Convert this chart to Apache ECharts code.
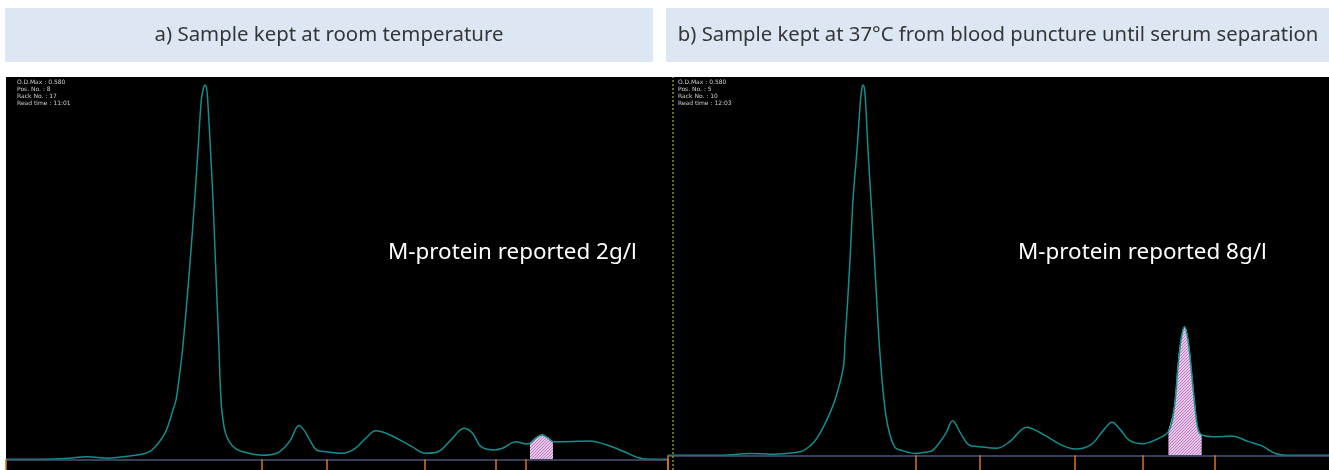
<!DOCTYPE html>
<html>
<head>
<meta charset="utf-8">
<script src="https://cdn.jsdelivr.net/npm/echarts@6/dist/echarts.min.js"></script>
<style>html,body{margin:0;padding:0;background:#fff}#c{width:1329px;height:470px}</style>
</head>
<body>
<div id="c"></div>
<script>
// ---- Data (migration position, % of O.D. max) ----
const posA = [0,37,59,81,102,124,137,146,159,167,170,173.5,176.5,181,185,188.7,192,195.3,197.5,199,200.5,201.7,204.5,207,209,211,213,215,217,219.5,224,230,237,256,271.5,279,284.6,293,298,302,310.6,320,336.6,349.6,360,369.6,384,406,419,432,445,458,466.7,475,489.7,497,510,520,524,530,536,542,547,558,584,601,618.5,631.5,644.5,662];
const odA  = [0,0,0.2,0.7,0.3,0.9,1.4,2.5,7.0,13.2,15.8,22.5,29.2,42.6,55.9,69.3,82.6,96.0,99.2,100,99.2,96.0,82.6,69.3,55.9,42.6,29.2,15.8,10.5,7.0,4.4,2.8,2.0,1.1,1.7,3.3,5.2,9.0,7.8,6.0,2.5,2.0,1.6,3.0,5.7,7.6,6.5,3.4,1.6,2.0,5.2,8.3,6.9,3.4,2.5,3.0,4.7,4.1,4.3,5.7,6.5,5.7,4.7,4.7,4.9,3.8,2.0,0.5,0,0];
const posB = [0,47,67,81.6,103,122,132.8,139,146,152,162.6,169,175.4,177.1,179.7,182.5,185,189,192.5,194,195,196.3,197.5,200,203,206,208.7,211.7,216,220,226.6,235,248,257,265,277.8,284.6,292.7,301,312,329,341.8,358.8,376,393,407,422.8,435.6,444,452.7,461,474.8,486.8,500.4,506,510,513,516.6,520,523,527.3,530.3,533.7,547.3,563.5,580.6,593.4,608.3,619,661];
const odB  = [0,0,0.2,0.5,0.3,0.6,1.0,1.9,3.6,5.9,11.8,16.7,23.9,31.1,41.9,55.4,69.0,82.5,95.9,99.2,100,99.2,95.9,82.5,69.0,55.4,41.9,28.4,14.9,7.7,2.3,1.2,0.5,0.8,1.4,5.9,9.3,5.9,2.8,2.3,1.9,3.7,7.6,5.5,2.8,1.7,2.8,6.8,8.9,6.8,4.1,3.1,4.1,6.4,12.2,23.9,31.1,34.7,31.1,23.9,12.2,6.8,5.5,5.0,5.2,3.7,2.6,0.4,0,0];
const fractionsA = [0,256,321,419,490,520,662];
const fractionsB = [0,248,312,407,475,547];
const mBandA = [524,547];
const mBandB = [500.4,533.7];
const cursorB = [5];
const titles = ['a) Sample kept at room temperature','b) Sample kept at 37°C from blood puncture until serum separation'];
const mLabels = ['M-protein reported 2g/l','M-protein reported 8g/l'];
const infoA = ['O.D.Max : 0.580','Pos. No. : 8','Rack No. : 17','Read time : 11:01'];
const infoB = ['O.D.Max : 0.580','Pos. No. : 5','Rack No. : 10','Read time : 12:03'];

// ---- Build ----
const zip = (xs, ys) => xs.map((x, i) => [x, ys[i]]);
const band = (xs, ys, b) => zip(xs, ys).filter(p => p[0] >= b[0] && p[0] <= b[1]);

const pc = document.createElement('canvas');
pc.width = 3; pc.height = 3;
const g = pc.getContext('2d');
g.fillStyle = '#e9c6ea'; g.fillRect(0,0,3,3);
g.fillStyle = '#b57dbb';
g.fillRect(2,0,1,1); g.fillRect(1,1,1,1); g.fillRect(0,2,1,1);

const yMinA = -2.86, yMaxA = 102.15, yMinB = -3.97, yMaxB = 102.16;
const CURVE = '#138e8e', TICK = '#d97718', BASE = '#4b5478';

function tickLines(fr, ymin){
  return fr.map(x => [{coord:[x,0], lineStyle:{color:TICK, width:1.5, type:'solid'}},{coord:[x,ymin]}]);
}
function panelSeries(idx, xs, ys, fr, b, ymin, extraLines){
  return [
    {type:'line', xAxisIndex:idx, yAxisIndex:idx, data: band(xs, ys, b), smooth:0.35,
     showSymbol:false, lineStyle:{width:1, color:'#a6dde2'}, areaStyle:{color:{image:pc, repeat:'repeat'}, opacity:1}, z:2, silent:true},
    {type:'line', xAxisIndex:idx, yAxisIndex:idx, data: zip(xs, ys), smooth:0.35,
     showSymbol:false, lineStyle:{width:1.5, color:CURVE}, z:3, silent:true,
     markLine:{silent:true, symbol:'none', label:{show:false}, animation:false,
       data:[{yAxis:0, lineStyle:{color:BASE, width:1.5, type:'solid'}}]
         .concat(tickLines(fr, ymin))
         .concat(extraLines)}}
  ];
}

const infoText = (lines, x) => lines.map((t,i)=>({type:'text', left:x, top:79+i*7,
  style:{text:t, fill:'#cfcfcf', font:'6px "DejaVu Sans"'}, z:10}));

const chart = echarts.init(document.getElementById('c'), null, {renderer:'canvas'});
chart.setOption({
  animation:false,
  backgroundColor:'#ffffff',
  grid:[
    {left:6, top:77, width:662, height:393, show:true, backgroundColor:'#000', borderWidth:0},
    {left:668, top:77, width:661, height:393, show:true, backgroundColor:'#000', borderWidth:0}
  ],
  xAxis:[
    {type:'value', gridIndex:0, min:0, max:662, show:false},
    {type:'value', gridIndex:1, min:0, max:661, show:false}
  ],
  yAxis:[
    {type:'value', gridIndex:0, min:yMinA, max:yMaxA, show:false},
    {type:'value', gridIndex:1, min:yMinB, max:yMaxB, show:false}
  ],
  series: panelSeries(0, posA, odA, fractionsA, mBandA, yMinA, [])
    .concat(panelSeries(1, posB, odB, fractionsB, mBandB, yMinB,
      cursorB.map(x => ({xAxis:x, lineStyle:{color:'#8f8f2a', width:1.5, type:[2,2]}})))),
  graphic:[
    {type:'rect', shape:{x:5, y:8, width:648, height:54}, style:{fill:'#dde7f3'}, z:1},
    {type:'rect', shape:{x:666, y:8, width:663, height:54}, style:{fill:'#dde7f3'}, z:1},
    {type:'text', x:329, y:35, style:{text:titles[0], fill:'#363636', font:'20.4px "Noto Sans"', textAlign:'center', textVerticalAlign:'middle'}, z:2},
    {type:'text', x:998, y:35, style:{text:titles[1], fill:'#363636', font:'20.3px "Noto Sans"', textAlign:'center', textVerticalAlign:'middle'}, z:2},
    {type:'text', x:388, y:253, style:{text:mLabels[0], fill:'#ffffff', font:'22.4px "Noto Sans"', textAlign:'left', textVerticalAlign:'middle'}, z:10},
    {type:'text', x:1018, y:253, style:{text:mLabels[1], fill:'#ffffff', font:'22.4px "Noto Sans"', textAlign:'left', textVerticalAlign:'middle'}, z:10}
  ].concat(infoText(infoA, 17)).concat(infoText(infoB, 678))
});
</script>
</body>
</html>
